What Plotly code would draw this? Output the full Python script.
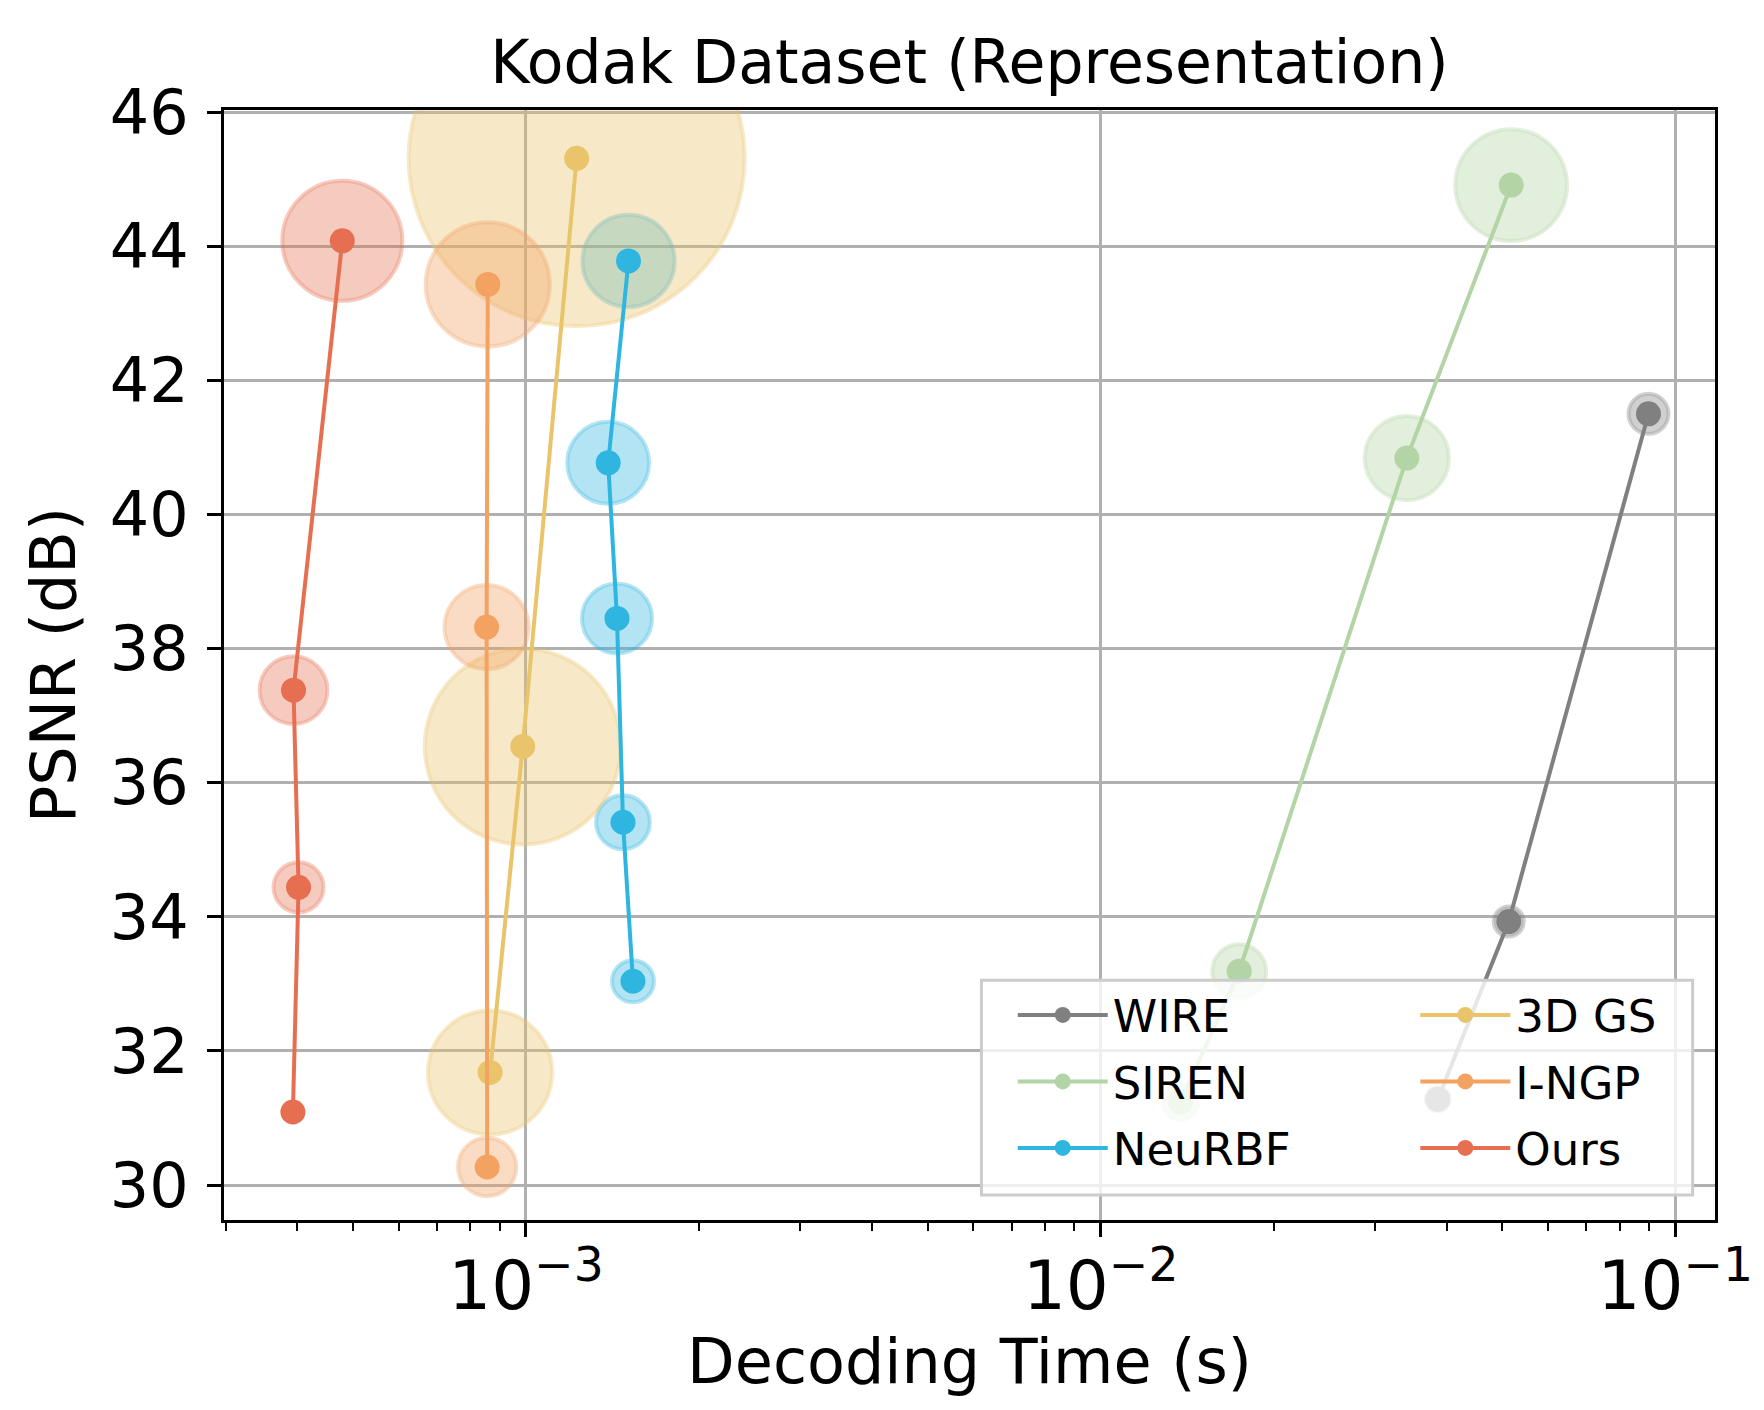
import plotly.graph_objects as go

# Kodak representation results: decoding time (s), PSNR (dB), bubble = relative model size
wire_time = [0.0386, 0.0513, 0.0898]
wire_psnr = [31.28, 33.93, 41.50]
wire_size = [5.8, 9.0, 16.0]

siren_time = [0.01377, 0.01742, 0.0341, 0.0518]
siren_psnr = [31.24, 33.19, 40.84, 44.91]
siren_size = [13.0, 29.0, 71.0, 125.0]

neurbf_time = [0.001535, 0.001475, 0.00144, 0.00139, 0.001508]
neurbf_psnr = [33.04, 35.41, 38.45, 40.77, 43.78]
neurbf_size = [17.6, 29.0, 49.0, 67.0, 85.0]

gs_time = [0.000866, 0.000987, 0.001225]
gs_psnr = [31.68, 36.54, 45.31]
gs_size = [154.0, 384.0, 1129.0]

ingp_time = [0.000856, 0.000854, 0.000858]
ingp_psnr = [30.27, 38.32, 43.43]
ingp_size = [34.0, 71.0, 154.0]

ours_time = [0.000393, 0.000402, 0.000394, 0.000479]
ours_psnr = [31.09, 34.44, 37.38, 44.08]
ours_size = [1.0, 25.0, 46.0, 144.0]

methods = [
    ("WIRE", "#808080", wire_time, wire_psnr, wire_size, "legend"),
    ("SIREN", "#b3d4a4", siren_time, siren_psnr, siren_size, "legend"),
    ("NeuRBF", "#2eb6e0", neurbf_time, neurbf_psnr, neurbf_size, "legend"),
    ("3D GS", "#e9c46a", gs_time, gs_psnr, gs_size, "legend2"),
    ("I-NGP", "#f4a261", ingp_time, ingp_psnr, ingp_size, "legend2"),
    ("Ours", "#e76f51", ours_time, ours_psnr, ours_size, "legend2"),
]


def rgba(hex_color, alpha):
    h = hex_color.lstrip("#")
    r, g, b = int(h[0:2], 16), int(h[2:4], 16), int(h[4:6], 16)
    return f"rgba({r},{g},{b},{alpha})"


fig = go.Figure()

# translucent bubbles first so the lines sit on top of all of them
for name, color, t, p, s, leg in methods:
    fig.add_trace(go.Scatter(
        x=t, y=p, mode="markers", showlegend=False, hoverinfo="skip",
        legendgroup=name, legend=leg,
        marker=dict(size=s, sizemode="area", sizeref=0.02,
                    color=rgba(color, 0.52), line=dict(color=rgba(color, 0.5), width=4)),
    ))

for name, color, t, p, s, leg in methods:
    fig.add_trace(go.Scatter(
        x=t, y=p, mode="lines+markers", name=name,
        legendgroup=name, legend=leg,
        line=dict(color=color, width=4),
        marker=dict(size=25, color=color),
    ))

axis_style = dict(
    showgrid=True, gridcolor="#b0b0b0", gridwidth=3,
    ticks="outside", ticklen=14, tickwidth=3, tickcolor="black",
    showline=True, linecolor="black", linewidth=3, mirror=True,
    zeroline=False,
)

fig.update_xaxes(
    type="log", range=[-3.5255, -0.931], dtick=1, exponentformat="power",
    minor=dict(ticks="outside", ticklen=8, tickwidth=2, tickcolor="black", dtick="D1", showgrid=False),
    tickfont=dict(size=54), ticklabelstandoff=-6,
    title=dict(text="Decoding Time (s)", font=dict(size=62), standoff=0),
    **axis_style,
)
fig.update_yaxes(
    range=[29.48, 46.03], tick0=30, dtick=2,
    tickfont=dict(size=62), ticklabelstandoff=6,
    title=dict(text="PSNR (dB)", font=dict(size=62), standoff=14),
    **axis_style,
)

legend_style = dict(
    yanchor="top", y=0.217, xanchor="left", bgcolor="rgba(0,0,0,0)", borderwidth=0,
    font=dict(size=45), itemwidth=90, tracegroupgap=5,
)

fig.update_layout(
    width=1764, height=1410,
    margin=dict(l=216, r=57, t=102, b=198),
    paper_bgcolor="white", plot_bgcolor="white",
    font=dict(family="DejaVu Sans", size=62, color="black"),
    title=dict(text="Kodak Dataset (Representation)", x=0.5, xref="paper",
               y=0.962, yref="container", yanchor="middle", font=dict(size=60)),
    legend=dict(x=0.529, **legend_style),
    legend2=dict(x=0.799, **legend_style),
    shapes=[dict(type="rect", xref="paper", yref="paper", x0=0.508, x1=0.985, y0=0.0225, y1=0.216,
                 layer="above", fillcolor="rgba(255,255,255,0.8)", line=dict(color="#cccccc", width=3))],
)

fig.write_html("out.html")
